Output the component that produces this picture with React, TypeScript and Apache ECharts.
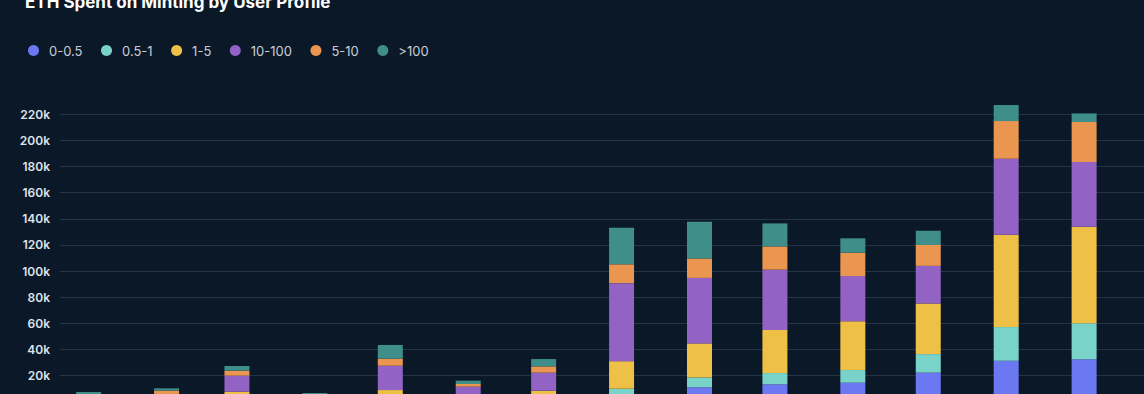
import React, { useEffect, useRef } from "react";
import * as echarts from "echarts";

const months: string[] = [
  "2021-01-01", "2021-02-01", "2021-03-01", "2021-04-01", "2021-05-01", "2021-06-01", "2021-07-01",
  "2021-08-01", "2021-09-01", "2021-10-01", "2021-11-01", "2021-12-01", "2022-01-01", "2022-02-01",
];

const seriesNames: string[] = ["0-0.5", "0.5-1", "1-5", "10-100", "5-10", ">100"];
const seriesColors: string[] = ["#6b78f2", "#7ad3c8", "#eec046", "#9262c4", "#ea9650", "#3f8e89"];

const v0_05: number[] = [300, 300, 500, 200, 600, 400, 500, 4500, 11100, 13400, 14600, 22300, 31400, 32500];
const v05_1: number[] = [200, 300, 500, 200, 700, 400, 600, 5500, 7500, 8600, 9700, 14200, 25800, 27600];
const v1_5: number[] = [700, 900, 6700, 800, 7700, 3500, 7400, 21100, 26100, 32900, 37300, 38800, 70600, 73900];
const v10_100: number[] = [2800, 4200, 12300, 3500, 18600, 7300, 13800, 59700, 50100, 46200, 34600, 28700, 58200, 49500];
const v5_10: number[] = [1300, 2900, 3800, 900, 5400, 2000, 4800, 14400, 14900, 17800, 17900, 16000, 28800, 30600];
const v100plus: number[] = [2200, 1700, 3600, 1100, 10500, 2600, 5600, 28000, 28000, 17600, 11000, 10900, 12300, 6600];

const allValues: number[][] = [v0_05, v05_1, v1_5, v10_100, v5_10, v100plus];

const yTickStep = 20000;
const yMax = 220000;

export default function App() {
  const ref = useRef<HTMLDivElement>(null);

  useEffect(() => {
    if (!ref.current) return;
    const chart = echarts.init(ref.current, undefined, { renderer: "svg" });
    const times = months.map((m) => {
      const [y, mo, d] = m.split("-").map(Number);
      return Date.UTC(y, mo - 1, d);
    });
    chart.setOption({
      animation: false,
      backgroundColor: "#0b1828",
      title: {
        text: "ETH Spent on Minting by User Profile",
        left: 20,
        top: -12,
        textStyle: { color: "#ffffff", fontSize: 17, fontWeight: "bold", fontFamily: "Inter" },
      },
      legend: {
        data: seriesNames,
        left: 23,
        top: 39,
        icon: "circle",
        itemWidth: 21,
        itemHeight: 11,
        itemGap: 18.5,
        textStyle: { color: "#c9ced6", fontSize: 13, fontFamily: "Inter" },
      },
      grid: {
        left: 60,
        right: 0,
        top: 114.3,
        bottom: -7.8,
        containLabel: false,
        outerBoundsMode: "none",
      },
      xAxis: {
        type: "time",
        min: Date.UTC(2020, 11, 25, 14),
        max: Date.UTC(2022, 1, 19, 20, 24),
        axisLabel: { show: false },
        axisTick: { show: false },
        axisLine: { show: false },
        splitLine: { show: false },
      },
      yAxis: {
        type: "value",
        min: 0,
        max: yMax,
        interval: yTickStep,
        axisLine: { show: false },
        axisTick: { show: false },
        axisLabel: {
          margin: 10,
          color: "#dfe3e8",
          fontSize: 12,
          fontWeight: 600,
          fontFamily: "Inter",
          formatter: (v: number) => (v === 0 ? "" : `${v / 1000}k`),
        },
        splitLine: { lineStyle: { color: "#243447", width: 1 } },
      },
      series: seriesNames.map((name, i) => ({
        name,
        type: "bar",
        stack: "total",
        barWidth: 25,
        clip: false,
        itemStyle: { color: seriesColors[i] },
        data: times.map((t, j) => [t, allValues[i][j]]),
      })),
    });
    return () => chart.dispose();
  }, []);

  return (
    <div
      ref={ref}
      style={{ position: "absolute", left: 0, top: 0, width: 1144, height: 394 }}
    />
  );
}
